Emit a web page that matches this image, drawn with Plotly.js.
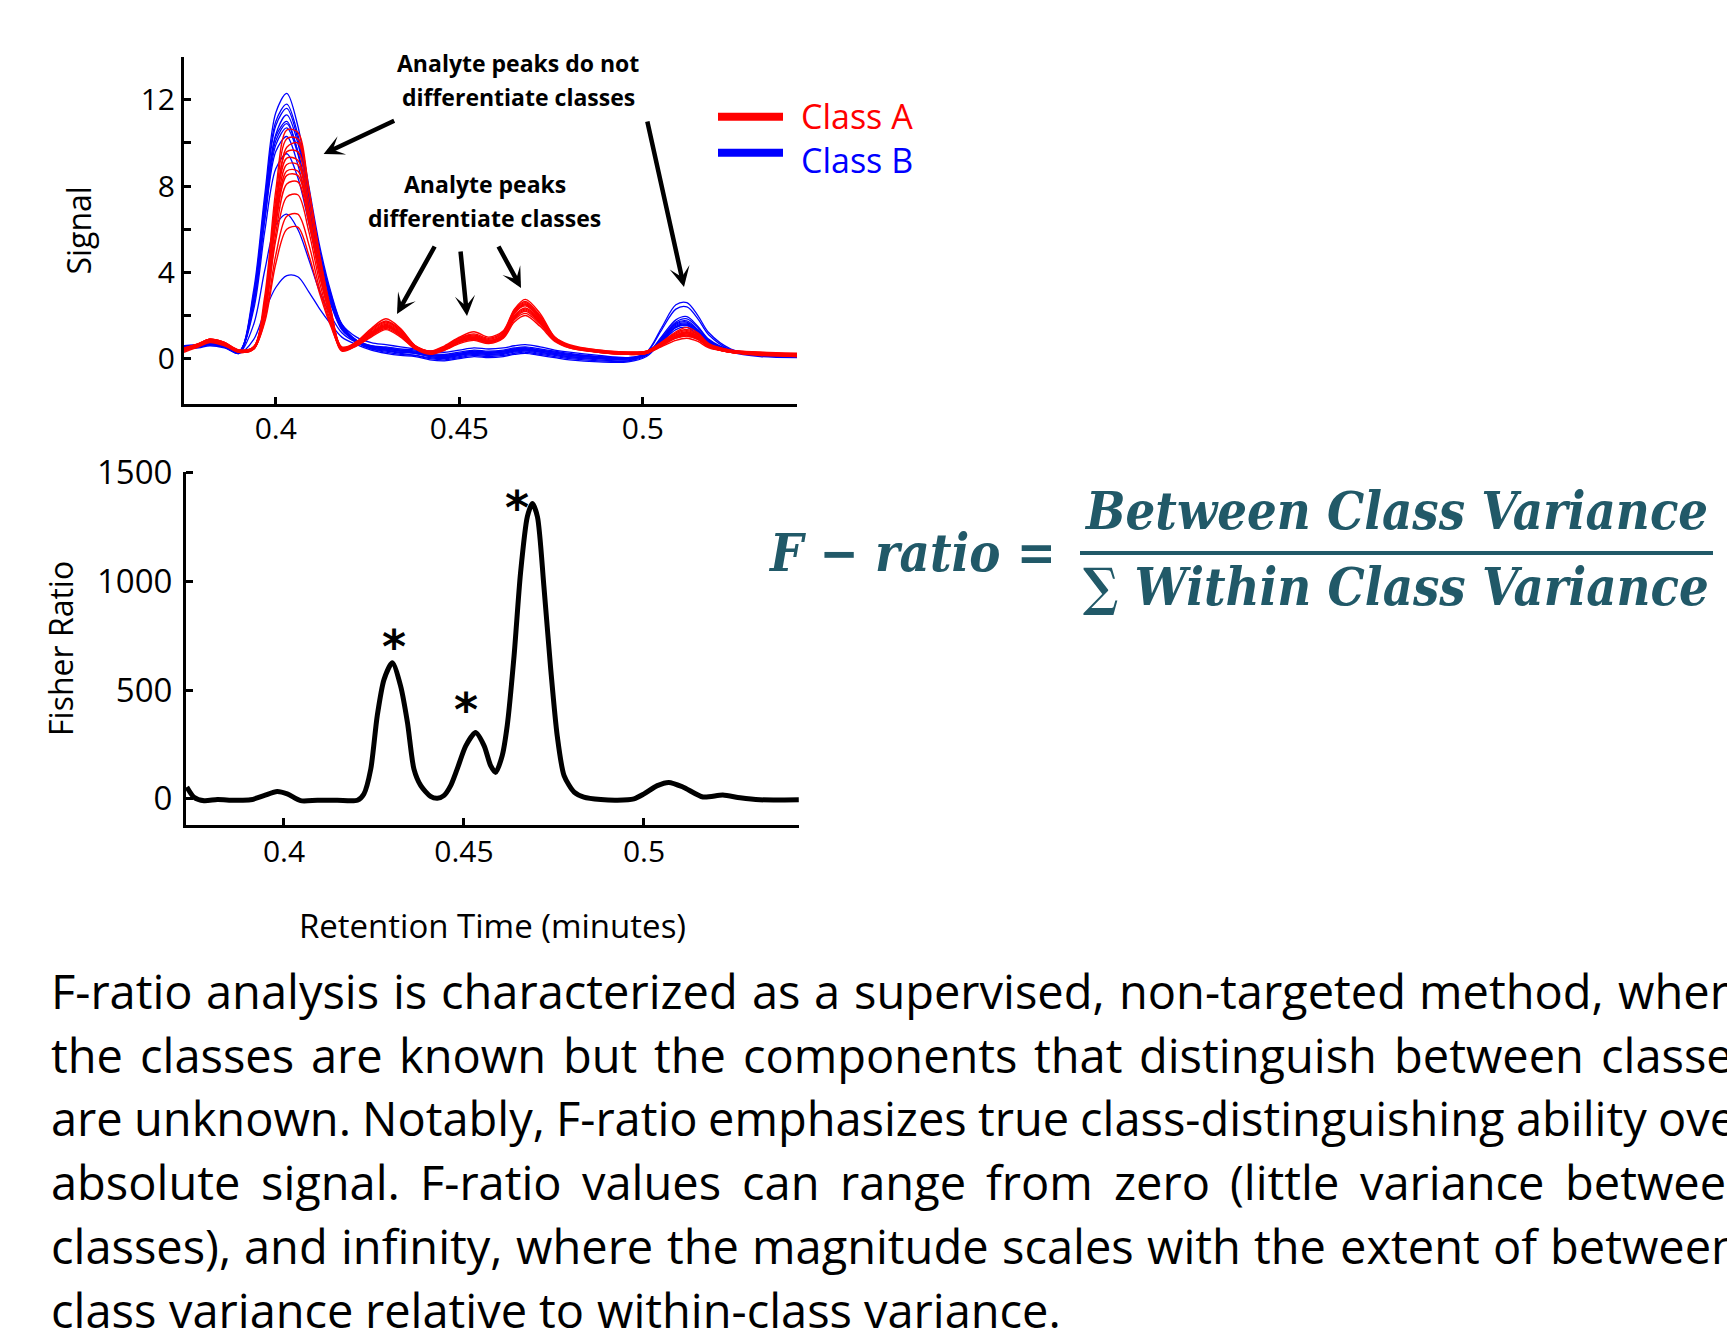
<!DOCTYPE html>
<html>
<head>
<meta charset="utf-8">
<script src="https://cdn.plot.ly/plotly-3.0.1.min.js"></script>
<style>
html,body{margin:0;padding:0;background:#ffffff;overflow:hidden}
#chart{width:1727px;height:1330px}
</style>
</head>
<body>
<div id="chart"></div>
<script>
// ---------------- DATA ----------------
// Retention time grid for the overlaid chromatograms (minutes)
const retentionTime = [0.375,0.379,0.382,0.386,0.390, 0.394,0.397,0.400,0.403,0.406,
  0.409,0.412,0.415,0.418,0.422, 0.426,0.430,0.434,0.438,0.442,
  0.446,0.450,0.454,0.458,0.462, 0.465,0.468,0.472,0.476,0.480,
  0.488,0.496,0.501,0.505,0.509, 0.512,0.515,0.518,0.524,0.532, 0.542];

// Class A chromatograms (red)
const classA01 = [0.45,0.7,0.9,0.75,0.35, 0.55,2.9,7.8,10.6,10.5, 7.9,4.8,2.2,0.45,0.8, 1.4,1.85,1.4,0.6,0.35, 0.6,1.0,1.25,1.0,1.3, 2.3,2.75,2.1,1.0,0.65, 0.4,0.3,0.35,0.75,1.25, 1.45,1.2,0.7,0.4,0.3, 0.25];
const classA02 = [0.35,0.6,0.85,0.7,0.3, 0.45,2.2,6.8,9.8,10.0, 7.8,4.7,2.3,0.5,0.7, 1.3,1.7,1.3,0.55,0.3, 0.55,0.95,1.1,0.9,1.2, 2.2,2.6,1.95,0.95,0.6, 0.35,0.25,0.3,0.7,1.15, 1.3,1.1,0.65,0.35,0.25, 0.2];
const classA03 = [0.4,0.65,0.8,0.65,0.3, 0.5,2.6,7.0,9.3,9.2, 6.9,4.1,2.0,0.4,0.65, 1.15,1.55,1.15,0.5,0.25, 0.45,0.85,1.0,0.8,1.1, 2.1,2.5,1.85,0.9,0.55, 0.3,0.2,0.25,0.65,1.05, 1.2,1.0,0.6,0.3,0.2, 0.15];
const classA04 = [0.5,0.7,0.9,0.7,0.4, 0.55,2.3,6.4,8.7,8.7, 6.6,3.9,1.9,0.55,0.75, 1.2,1.5,1.15,0.6,0.35, 0.5,0.8,0.95,0.8,1.05, 1.95,2.3,1.75,0.9,0.6, 0.35,0.3,0.35,0.7,1.05, 1.15,0.95,0.6,0.35,0.25, 0.2];
const classA05 = [0.3,0.55,0.75,0.6,0.3, 0.45,2.0,5.8,8.1,8.2, 6.3,3.8,1.9,0.35,0.6, 1.05,1.4,1.05,0.45,0.2, 0.4,0.75,0.9,0.75,1.0, 1.85,2.2,1.65,0.85,0.5, 0.3,0.2,0.25,0.6,0.95, 1.05,0.9,0.55,0.3,0.2, 0.1];
const classA06 = [0.45,0.65,0.85,0.7,0.35, 0.5,2.1,5.5,7.5,7.6, 5.9,3.5,1.7,0.45,0.7, 1.1,1.45,1.1,0.5,0.3, 0.45,0.8,0.9,0.75,1.0, 1.8,2.1,1.6,0.85,0.55, 0.35,0.25,0.3,0.65,1.0, 1.1,0.95,0.55,0.3,0.2, 0.15];
const classA07 = [0.35,0.6,0.8,0.65,0.3, 0.45,1.8,4.8,6.6,6.7, 5.3,3.2,1.6,0.4,0.6, 1.0,1.35,1.0,0.45,0.25, 0.4,0.7,0.85,0.7,0.95, 1.7,2.0,1.5,0.8,0.5, 0.3,0.2,0.25,0.55,0.85, 0.95,0.8,0.5,0.3,0.15, 0.1];
const classA08 = [0.5,0.7,0.9,0.75,0.4, 0.5,1.7,4.4,6.0,6.1, 4.8,3.0,1.5,0.45,0.7, 1.15,1.5,1.15,0.55,0.3, 0.5,0.8,0.95,0.8,1.05, 1.9,2.25,1.7,0.9,0.6, 0.35,0.25,0.3,0.6,0.95, 1.05,0.9,0.55,0.3,0.2, 0.15];
const classA09 = [0.4,0.6,0.8,0.7,0.35, 0.5,2.5,7.1,9.6,9.6, 7.3,4.4,2.1,0.5,0.75, 1.25,1.65,1.25,0.55,0.3, 0.5,0.9,1.05,0.85,1.15, 2.15,2.55,1.9,0.95,0.6, 0.35,0.25,0.3,0.7,1.1, 1.25,1.05,0.6,0.35,0.25, 0.2];
const classA10 = [0.35,0.65,0.85,0.7,0.3, 0.45,2.2,6.2,8.5,8.5, 6.5,3.9,1.9,0.4,0.65, 1.1,1.5,1.1,0.5,0.25, 0.45,0.85,1.0,0.8,1.1, 2.0,2.35,1.8,0.9,0.55, 0.3,0.2,0.25,0.65,1.0, 1.15,0.95,0.55,0.3,0.2, 0.15];
const classA11 = [0.45,0.7,0.9,0.75,0.4, 0.55,2.6,7.4,10.2,10.2, 7.8,4.6,2.2,0.5,0.75, 1.35,1.75,1.35,0.6,0.35, 0.55,0.95,1.15,0.95,1.25, 2.25,2.65,2.0,1.0,0.6, 0.4,0.3,0.35,0.75,1.2, 1.35,1.15,0.65,0.4,0.3, 0.2];
const classA12 = [0.4,0.65,0.85,0.7,0.35, 0.5,2.3,6.6,9.0,9.0, 6.8,4.0,2.0,0.45,0.7, 1.2,1.6,1.2,0.55,0.3, 0.5,0.85,1.0,0.85,1.1, 2.1,2.45,1.85,0.9,0.55, 0.35,0.25,0.3,0.65,1.05, 1.2,1.0,0.6,0.35,0.25, 0.15];

// Class B chromatograms (blue)
const classB01 = [0.6,0.65,0.75,0.6,0.3, 3.2,7.6,11.4,12.3,10.8, 8.0,5.2,3.1,1.6,0.85, 0.55,0.45,0.35,0.3,0.15, 0.1,0.2,0.3,0.25,0.3, 0.4,0.45,0.35,0.25,0.15, 0.05,0.0,0.3,1.4,2.5, 2.6,2.0,1.2,0.45,0.2, 0.15];
const classB02 = [0.5,0.6,0.7,0.55,0.25, 2.9,7.2,10.8,11.6,10.2, 7.5,4.9,2.9,1.5,0.8, 0.45,0.3,0.2,0.15,0.0, -0.05,0.05,0.15,0.1,0.15, 0.25,0.3,0.2,0.1,0.0, -0.1,-0.1,0.25,1.3,2.3, 2.4,1.85,1.1,0.4,0.15, 0.1];
const classB03 = [0.55,0.6,0.7,0.6,0.3, 2.6,6.8,10.4,11.3,10.0, 7.4,4.8,2.9,1.5,0.85, 0.6,0.55,0.45,0.4,0.25, 0.2,0.3,0.4,0.35,0.4, 0.5,0.55,0.45,0.35,0.25, 0.1,0.05,0.2,1.0,1.8, 1.95,1.5,0.9,0.4,0.2, 0.15];
const classB04 = [0.45,0.55,0.65,0.55,0.25, 2.9,6.9,10.3,11.0,9.6, 7.1,4.6,2.7,1.4,0.75, 0.45,0.35,0.25,0.15,0.05, 0.0,0.1,0.2,0.15,0.2, 0.3,0.35,0.25,0.15,0.05, -0.05,-0.1,0.15,0.9,1.65, 1.75,1.35,0.85,0.35,0.15, 0.1];
const classB05 = [0.6,0.65,0.75,0.65,0.35, 2.5,6.5,9.9,10.7,9.5, 7.0,4.6,2.9,1.6,1.0, 0.75,0.65,0.55,0.45,0.35, 0.3,0.4,0.5,0.45,0.5, 0.6,0.65,0.55,0.4,0.3, 0.15,0.05,0.25,0.85,1.55, 1.65,1.3,0.8,0.4,0.25, 0.2];
const classB06 = [0.5,0.6,0.7,0.6,0.3, 2.6,6.4,9.6,10.3,9.0, 6.7,4.3,2.6,1.35,0.8, 0.5,0.4,0.3,0.25,0.1, 0.05,0.15,0.25,0.2,0.25, 0.35,0.4,0.3,0.2,0.1, 0.0,0.0,0.2,0.8,1.45, 1.55,1.2,0.75,0.35,0.15, 0.1];
const classB07 = [0.55,0.6,0.7,0.6,0.3, 2.3,5.9,8.8,9.5,8.4, 6.3,4.1,2.5,1.35,0.8, 0.55,0.45,0.35,0.25,0.15, 0.1,0.2,0.3,0.25,0.3, 0.4,0.45,0.35,0.25,0.15, 0.05,0.0,0.2,0.95,1.7, 1.85,1.45,0.85,0.35,0.2, 0.15];
const classB08 = [0.5,0.55,0.65,0.55,0.25, 1.6,4.1,6.2,6.7,6.0, 4.6,3.1,2.0,1.2,0.75, 0.55,0.5,0.4,0.35,0.2, 0.15,0.25,0.35,0.3,0.35, 0.45,0.5,0.4,0.3,0.2, 0.05,0.0,0.2,0.8,1.45, 1.55,1.2,0.75,0.35,0.15, 0.1];
const classB09 = [0.45,0.5,0.6,0.5,0.25, 0.9,2.2,3.3,3.85,3.8, 3.1,2.3,1.6,1.0,0.65, 0.4,0.25,0.15,0.1,-0.05, -0.1,0.0,0.1,0.05,0.1, 0.2,0.25,0.15,0.05,-0.05, -0.15,-0.15,0.1,0.75,1.35, 1.45,1.1,0.7,0.3,0.1, 0.05];
const classB10 = [0.55,0.6,0.7,0.6,0.3, 3.0,7.3,11.0,11.8,10.4, 7.7,5.0,3.0,1.55,0.85, 0.6,0.5,0.4,0.3,0.2, 0.15,0.25,0.35,0.3,0.35, 0.45,0.5,0.4,0.3,0.2, 0.1,0.0,0.2,0.85,1.6, 1.7,1.3,0.8,0.35,0.2, 0.15];
const classB11 = [0.5,0.55,0.65,0.55,0.3, 2.7,6.8,10.1,10.9,9.6, 7.1,4.6,2.8,1.45,0.8, 0.5,0.4,0.3,0.25,0.1, 0.05,0.15,0.25,0.2,0.25, 0.35,0.4,0.3,0.2,0.1, 0.0,-0.05,0.2,0.8,1.5, 1.6,1.25,0.75,0.35,0.15, 0.1];

// Fisher ratio trace
const fisherTime = [0.3730,0.3750,0.3778,0.3815,0.3861, 0.3907,0.3944,0.3981,0.4009,0.4046,
  0.4093,0.4148,0.4204,0.4222,0.4241, 0.4259,0.4278,0.4301,0.4324,0.4343,
  0.4361,0.4380,0.4407,0.4426,0.4444, 0.4463,0.4481,0.4505,0.4532,0.4556,
  0.4574,0.4588,0.4606,0.4620,0.4639, 0.4657,0.4676,0.4690,0.4704,0.4722,
  0.4741,0.4759,0.4778,0.4806,0.4833, 0.4880,0.4926,0.4972,0.5000,0.5037,
  0.5069,0.5108,0.5164,0.5219,0.5267, 0.5322,0.5430];
const fisherRatio = [55,8,-8,-3,-6, -4,15,34,23,-8,
  -6,-6,-6,23,137, 382,550,626,519,351,
  137,61,12,3,15, 61,137,244,305,244,
  153,122,198,336,656, 1038,1298,1359,1298,977,
  595,290,107,31,8, -3,-6,0,23,61,
  76,55,9,18,5, -4,-4];

// Significant-peak markers
const starTimes = [0.4306, 0.4505, 0.4648];
const starValues = [748, 458, 1389];

// Tick labels
const timeTickVals = [0.4, 0.45, 0.5];
const timeTickText = ['0.4', '0.45', '0.5'];
const signalTickVals = [0, 2, 4, 6, 8, 10, 12];
const signalTickText = ['0', '', '4', '', '8', '', '12'];
const fisherTickVals = [0, 500, 1000, 1500];
const fisherTickText = ['0', '500', '1000', '1500'];

// Texts
const legendLabels = ['Class A', 'Class B'];
const calloutTop = ['Analyte peaks do not', 'differentiate classes'];
const calloutMid = ['Analyte peaks', 'differentiate classes'];
const formulaLeft = 'F \u2212 ratio =';
const formulaNum = 'Between Class Variance';
const formulaDen = '\u2211 Within Class Variance';
const paragraphLines = [
  'F-ratio analysis is characterized as a supervised, non-targeted method, where',
  'the classes are known but the components that distinguish between classes',
  'are unknown. Notably, F-ratio emphasizes true class-distinguishing ability over',
  'absolute signal. F-ratio values can range from zero (little variance between',
  'classes), and infinity, where the magnitude scales with the extent of between-',
  'class variance relative to within-class variance.'
];

// ---------------- LAYOUT HELPERS ----------------
const W = 1727, H = 1330;
const PX = v => v / W;
const PY = v => 1 - v / H;
const RED = '#ff0000', BLUE = '#0000ff', TEAL = '#215968';
const FONT = 'Open Sans';

const classA = [classA01,classA02,classA03,classA04,classA05,classA06,classA07,classA08,classA09,classA10,classA11,classA12];
const classB = [classB01,classB02,classB03,classB04,classB05,classB06,classB07,classB08,classB09,classB10,classB11];

const traces = [];
classB.forEach(ys => traces.push({
  type: 'scatter', mode: 'lines', x: retentionTime, y: ys, xaxis: 'x', yaxis: 'y',
  name: legendLabels[1], showlegend: false, hoverinfo: 'skip',
  line: {color: BLUE, width: 1.3, shape: 'spline', smoothing: 0.9}
}));
classA.forEach(ys => traces.push({
  type: 'scatter', mode: 'lines', x: retentionTime, y: ys, xaxis: 'x', yaxis: 'y',
  name: legendLabels[0], showlegend: false, hoverinfo: 'skip',
  line: {color: RED, width: 1.4, shape: 'spline', smoothing: 0.9}
}));
traces.push({
  type: 'scatter', mode: 'lines', x: fisherTime, y: fisherRatio, xaxis: 'x2', yaxis: 'y2',
  showlegend: false, hoverinfo: 'skip',
  line: {color: '#000000', width: 5, shape: 'spline', smoothing: 0.7}
});

const annotations = [];
const shapes = [];

// asterisks above significant Fisher-ratio peaks
starTimes.forEach((t, i) => annotations.push({
  xref: 'x2', yref: 'y2', x: t, y: starValues[i], text: '*', showarrow: false,
  xanchor: 'center', yanchor: 'middle', yshift: -11,
  font: {family: 'DejaVu Sans', size: 46, color: '#000000', weight: 'bold'}
}));

// callout texts (one annotation per line)
[[calloutTop, 518, [63, 97]], [calloutMid, 485, [184, 218]]].forEach(c => {
  c[0].forEach((t, k) => annotations.push({xref:'paper', yref:'paper', x: PX(c[1]), y: PY(c[2][k]), text: t,
    showarrow:false, xanchor:'center', yanchor:'middle',
    font:{family: FONT, size: 23, color:'#000000', weight:'bold'}}));
});

// arrows (head, tail) in page pixels
const arrows = [
  [[323.6,154],[395.7,120]],
  [[684,287],[647,120]],
  [[397,314],[435.5,245]],
  [[467,316],[460.4,250]],
  [[521,288],[497.7,245]]
];
arrows.forEach(a => annotations.push({
  xref:'paper', yref:'paper', x: PX(a[0][0]), y: PY(a[0][1]),
  ax: a[1][0]-a[0][0], ay: a[1][1]-a[0][1], axref:'pixel', ayref:'pixel',
  text:'', showarrow:true, arrowhead:3, arrowsize:0.75, arrowwidth:4.5, arrowcolor:'#000000'
}));

// legend (keys + one two-line label)
[[RED, 116.7], [BLUE, 152.7]].forEach(l => {
  shapes.push({type:'line', xref:'paper', yref:'paper', x0: PX(718), x1: PX(783), y0: PY(l[1]), y1: PY(l[1]),
    line:{color:l[0], width:8}});
});
annotations.push({xref:'paper', yref:'paper', x: PX(799), y: PY(137.5), showarrow:false,
  text: '<span style="color:' + RED + '">' + legendLabels[0] + '</span><br><span style="color:' + BLUE + '">' + legendLabels[1] + '</span>',
  xanchor:'left', yanchor:'middle', align:'left', font:{family: FONT, size: 34, color: RED}});

// formula
const fSize = 52;
const fFont = {family:'DejaVu Serif Condensed, DejaVu Serif', size: fSize, color: TEAL, weight:'bold', style:'italic'};
annotations.push({xref:'paper', yref:'paper', x: PX(766), y: PY(570 - 0.346*fSize), text: formulaLeft, showarrow:false,
  xanchor:'left', yanchor:'middle', font: fFont});
annotations.push({xref:'paper', yref:'paper', x: PX(1396), y: PY(528 - 0.346*fSize), text: formulaNum, showarrow:false,
  xanchor:'center', yanchor:'middle', font: fFont});
annotations.push({xref:'paper', yref:'paper', x: PX(1396), y: PY(604 - 0.346*fSize), text: formulaDen, showarrow:false,
  xanchor:'center', yanchor:'middle', font: fFont});
shapes.push({type:'line', xref:'paper', yref:'paper', x0: PX(1080), x1: PX(1713), y0: PY(553), y1: PY(553),
  line:{color: TEAL, width: 4}});

// paragraph (justified, words placed individually)
const paraSize = 47, paraLeft = 51, paraRight = 1755, paraBase0 = 1009, paraStep = 63.8;
const ctx = document.createElement('canvas').getContext('2d');
ctx.font = paraSize + 'px "' + FONT + '"';
paragraphLines.forEach((line, i) => {
  const yc = PY(paraBase0 + i * paraStep - 0.388 * paraSize);
  const words = line.split(' ');
  const widths = words.map(w => ctx.measureText(w).width);
  const total = widths.reduce((a, b) => a + b, 0);
  const justify = i < paragraphLines.length - 1;
  const gap = justify ? (paraRight - paraLeft - total) / (words.length - 1) : ctx.measureText(' ').width;
  let x = paraLeft;
  words.forEach((w, k) => {
    if (x < W - 4) {
      annotations.push({xref:'paper', yref:'paper', x: PX(x), y: yc, text: w, showarrow:false,
        xanchor:'left', yanchor:'middle', borderpad:0, borderwidth:0,
        font:{family: FONT, size: paraSize, color:'#000000'}});
    }
    x += widths[k] + gap;
  });
});

const axisCommon = {
  showline: true, linewidth: 3, linecolor: '#000000', mirror: false,
  ticks: 'inside', ticklen: 7, tickwidth: 3, tickcolor: '#000000',
  showgrid: false, zeroline: false, fixedrange: true,
  tickfont: {family: FONT, size: 30, color: '#000000'}
};

const layout = {
  width: W, height: H, margin: {l:0, r:0, t:0, b:0, pad:0},
  paper_bgcolor: '#ffffff', plot_bgcolor: 'rgba(0,0,0,0)',
  showlegend: false, font: {family: FONT, color: '#000000'},
  xaxis: Object.assign({}, axisCommon, {
    domain: [PX(184), PX(797)], range: [0.375, 0.542], anchor: 'y',
    tickmode: 'array', tickvals: timeTickVals, ticktext: timeTickText, ticklabelstandoff: -4
  }),
  yaxis: Object.assign({}, axisCommon, {
    domain: [PY(404), PY(56.7)], range: [-2.1, 14], anchor: 'x',
    tickmode: 'array', tickvals: signalTickVals, ticktext: signalTickText,
    title: {text: 'Signal', font: {family: FONT, size: 32, color:'#000000'}, standoff: 40}
  }),
  xaxis2: Object.assign({}, axisCommon, {
    domain: [PX(186), PX(799)], range: [0.37278, 0.54306], anchor: 'y2',
    tickmode: 'array', tickvals: timeTickVals, ticktext: timeTickText, ticklabelstandoff: -2,
    title: {text: 'Retention Time (minutes)', font: {family: FONT, size: 33, color:'#000000'}, standoff: 45}
  }),
  yaxis2: Object.assign({}, axisCommon, {
    domain: [PY(825), PY(471.7)], range: [-120, 1505], anchor: 'x2',
    tickmode: 'array', tickvals: fisherTickVals, ticktext: fisherTickText,
    tickfont: {family: FONT, size: 33, color: '#000000'}, ticklabelstandoff: 4,
    title: {text: 'Fisher Ratio', font: {family: FONT, size: 32, color:'#000000'}, standoff: 14}
  }),
  annotations: annotations,
  shapes: shapes
};

Plotly.newPlot('chart', traces, layout, {staticPlot: true, displayModeBar: false, responsive: false});
</script>
</body>
</html>
